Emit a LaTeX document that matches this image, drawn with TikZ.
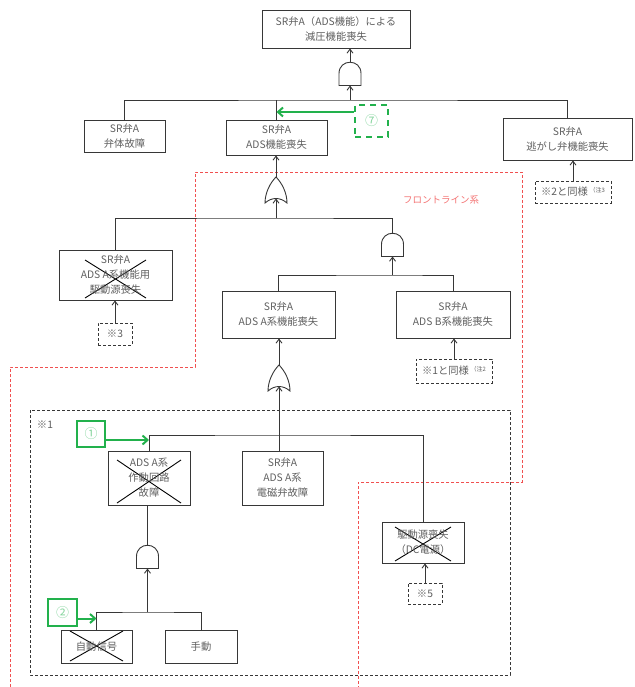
\documentclass[tikz,border=0pt]{standalone}
\usepackage{fontspec}
\setmainfont{Noto Sans CJK JP}
\usepackage{xcolor}
\usepackage{tikz}
\usetikzlibrary{arrows.meta,positioning}

\definecolor{linegray}{RGB}{55,55,55}
\definecolor{textgray}{RGB}{95,95,95}
\definecolor{markgreen}{RGB}{34,177,76}
\definecolor{frontred}{RGB}{240,80,80}

\newcommand{\chunote}[1]{\,\raisebox{3pt}{\fontsize{6pt}{6pt}\selectfont （注#1}}

\tikzset{
  event/.style={draw=linegray, line width=0.9pt, align=center, text=textgray, inner sep=1pt},
  refbox/.style={draw=linegray, dashed, dash pattern=on 3pt off 2pt, line width=0.8pt, text=textgray, inner sep=1pt},
  crossed/.style 2 args={path picture={
    \draw[black, line width=0.9pt]
      ([shift={(#1pt,-#2pt)}]path picture bounding box.north west) -- ([shift={(-#1pt,2pt)}]path picture bounding box.south east)
      ([shift={(-#1pt,-#2pt)}]path picture bounding box.north east) -- ([shift={(#1pt,2pt)}]path picture bounding box.south west);}},
  tag/.style={draw=markgreen, line width=2pt, text=markgreen!55, inner sep=0pt, font=\fontsize{13pt}{13pt}\selectfont},
  tagarrow/.style={draw=markgreen, line width=2pt, -{Straight Barb[length=5pt,width=9pt]}},
  gate/.style={draw=linegray, line width=0.9pt, fill=white},
  pics/andgate/.style={code={
    \draw[gate] (-11,12) -- (-11,0) .. controls (-11,-15) and (11,-15) .. (11,0) -- (11,12) -- cycle;
    \coordinate (-in) at (0,12);
    \coordinate (-out) at (0,-11);
  }},
  pics/orgate/.style={code={
    \draw[gate] (-11,12) .. controls (-4,6) and (4,6) .. (11,12)
      .. controls (11,2) and (6,-8) .. (0,-14)
      .. controls (-6,-8) and (-11,2) .. (-11,12) -- cycle;
    \coordinate (-in) at (0,7.5);
    \coordinate (-out) at (0,-14);
  }},
}

\begin{document}
\begin{tikzpicture}[x=1pt, y=-1pt, font=\fontsize{10.3pt}{15pt}\selectfont,
    >={Straight Barb[length=4pt,width=6pt]}, color=linegray, line width=0.9pt]
    \useasboundingbox (0,0) rectangle (634,687);

    % boundaries
    \draw[frontred, dash pattern=on 3pt off 2pt] (10,687) -- (10,367) -- (195,367) -- (195,172)
        -- (522,172) -- (522,482) -- (358,482) -- (358,687);
    \node[text=frontred!80, font=\fontsize{9.5pt}{9.5pt}\selectfont] (frontlbl) at (441,200) {フロントライン系};
    \draw[dashed, dash pattern=on 3pt off 2pt, line width=0.8pt] (30,410) rectangle (510,675);
    \node[text=textgray] (lbl1) at (45,425) {※1};

    % events
    \node[event, minimum width=148pt, minimum height=38pt] (top) at (336,29) {SR弁A（ADS機能）による\\減圧機能喪失};
    \node[event, minimum width=81pt, minimum height=32pt] (bentai) at (124.5,136) {SR弁A\\弁体故障};
    \node[event, minimum width=101pt, minimum height=35pt] (adsfail) at (276.5,137.5) {SR弁A\\ADS機能喪失};
    \node[event, minimum width=129pt, minimum height=42pt] (nigashi) at (567.5,139) {SR弁A\\逃がし弁機能喪失};
    \node[refbox, minimum width=76pt, minimum height=22pt] (note2) at (573,192) {※2と同様\chunote{3}};
    \node[event, crossed={26}{10}, minimum width=113pt, minimum height=50pt] (drvsrc) at (115.5,275) {SR弁A\\ADS A系機能用\\駆動源喪失};
    \node[refbox, minimum width=34pt, minimum height=22pt] (note3) at (115,334) {※3};
    \node[event, minimum width=113pt, minimum height=47pt] (sysA) at (278.5,314.5) {SR弁A\\ADS A系機能喪失};
    \node[event, minimum width=114pt, minimum height=47pt] (sysB) at (453,314.5) {SR弁A\\ADS B系機能喪失};
    \node[refbox, minimum width=76pt, minimum height=24pt] (note1) at (454,371) {※1と同様\chunote{2}};
    \node[event, crossed={9}{9}, minimum width=82pt, minimum height=54pt] (circuit) at (149,478) {ADS A系\\作動回路\\故障};
    \node[event, minimum width=81pt, minimum height=54pt] (solenoid) at (282.5,478) {SR弁A\\ADS A系\\電磁弁故障};
    \node[event, crossed={13}{5}, minimum width=82pt, minimum height=41pt] (dcpower) at (423,542.5) {駆動源喪失\\（DC電源）};
    \node[refbox, minimum width=34pt, minimum height=21pt] (note5) at (425,593.5) {※5};
    \node[event, crossed={9}{1}, minimum width=71pt, minimum height=33pt] (autosig) at (96.5,646.5) {自動信号};
    \node[event, minimum width=72pt, minimum height=33pt] (manual) at (201,646.5) {手動};

    % gates
    \pic (gtop) at (350,73.5) {andgate};
    \pic (orA) at (276,191) {orgate};
    \pic (andB) at (392.5,244.5) {andgate};
    \pic (orC) at (279,379) {orgate};
    \pic (andD) at (147.5,556.5) {andgate};

    \coordinate (bar0) at (350,100);
    \coordinate (bar1) at (276,218);
    \coordinate (bar2) at (392.5,275);
    \coordinate (bar3) at (279,435);
    \coordinate (bar4) at (147.5,612);

    % connectors
    \draw[->] (gtop-out) -- (gtop-out |- top.south);
    \draw[->] (bar0) -- (gtop-in);
    \draw (bentai.north) |- (bar0) -| (nigashi.north);
    \draw (adsfail.north) -- (adsfail.north |- bar0);
    \draw[->] (note2.north) -- (note2.north |- nigashi.south);

    \draw[->] (orA-out) -- (orA-out |- adsfail.south);
    \draw[->] (bar1) -- (orA-in);
    \draw (drvsrc.north) |- (bar1) -| (andB-out);
    \draw[->] (note3.north) -- (note3.north |- drvsrc.south);

    \draw[->] (bar2) -- (andB-in);
    \draw (sysA.north) |- (bar2) -| (sysB.north);
    \draw[->] (note1.north) -- (note1.north |- sysB.south);

    \draw[->] (orC-out) -- (orC-out |- sysA.south);
    \draw[->] (bar3) -- (orC-in);
    \draw (bar3) -- (bar3 |- solenoid.north);
    \draw (circuit.north) |- (bar3) -| (dcpower.north);
    \draw[->] (note5.north) -- (note5.north |- dcpower.south);

    \draw (andD-out |- circuit.south) -- (andD-out);
    \draw[->] (bar4) -- (andD-in);
    \draw (autosig.north) |- (bar4) -| (manual.north);

    % green markers
    \node[tag, dashed, dash pattern=on 6pt off 5pt, minimum width=33pt, minimum height=32pt] (tag7) at (371.5,121) {⑦};
    \node[tag, minimum width=28pt, minimum height=26pt] (tag1) at (91,434) {①};
    \node[tag, minimum width=29pt, minimum height=27pt] (tag2) at (62.5,612.5) {②};
    \coordinate (t7) at ([yshift=9pt]tag7.west);
    \coordinate (t1) at ([yshift=-6pt]tag1.east);
    \coordinate (t2) at ([yshift=-6pt]tag2.east);
    \draw[tagarrow] (t7) -- (t7 -| adsfail.north);
    \draw[tagarrow] (t1) -- (t1 -| circuit.north);
    \draw[tagarrow] (t2) -- (t2 -| autosig.north);
\end{tikzpicture}
\end{document}
